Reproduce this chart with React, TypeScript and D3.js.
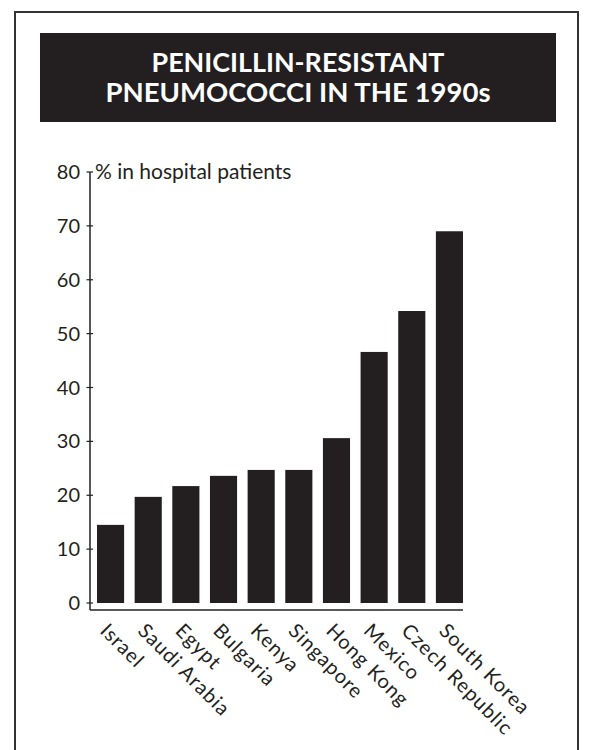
import React from "react";
import * as d3 from "d3";

const categories = ["Israel", "Saudi Arabia", "Egypt", "Bulgaria", "Kenya", "Singapore", "Hong Kong", "Mexico", "Czech Republic", "South Korea"];
const values = [14.5, 19.7, 21.7, 23.6, 24.7, 24.7, 30.6, 46.6, 54.2, 69.0];
const yTicks = [0, 10, 20, 30, 40, 50, 60, 70, 80];
const titleLines = ["PENICILLIN-RESISTANT", "PNEUMOCOCCI IN THE 1990s"];
const titleWidths = [293, 385];
const yAxisTitle = "% in hospital patients";

const W = 589;
const H = 750;
const INK = "#231f20";
const FONT = "Lato, 'Open Sans', sans-serif";

export default function App() {
  const x = d3.scaleBand<string>().domain(categories).range([97, 463]).paddingInner(0.28).paddingOuter(0);
  const y = d3.scaleLinear().domain([0, 80]).range([603, 172]);
  const axisX = 90;
  const baseY = 610;

  return (
    <svg width={W} height={H} style={{ position: "absolute", left: 0, top: 0, background: "#fff" }}>
      <rect x={15} y={12} width={563} height={760} fill="none" stroke="#333" strokeWidth={2} />
      <rect x={40} y={33} width={516} height={89} fill={INK} />
      {titleLines.map((t, i) => (
        <text
          key={t}
          x={298}
          y={72 + i * 30}
          textAnchor="middle"
          fill="#fff"
          fontFamily={FONT}
          fontWeight={700}
          fontSize={26}
          textLength={titleWidths[i]}
          lengthAdjust="spacingAndGlyphs"
        >
          {t}
        </text>
      ))}
      <line x1={axisX} x2={axisX} y1={y(80)} y2={baseY} stroke={INK} strokeWidth={1.5} />
      <line x1={axisX} x2={x("South Korea")! + x.bandwidth()} y1={baseY} y2={baseY} stroke={INK} strokeWidth={1.5} />
      {yTicks.map((t) => (
        <g key={t}>
          <line x1={axisX - 3.5} x2={axisX + 3} y1={y(t)} y2={y(t)} stroke={INK} strokeWidth={1.2} />
          <text x={80} y={y(t) + 7} textAnchor="end" fontFamily={FONT} fontSize={20} fill={INK}>
            {t}
          </text>
        </g>
      ))}
      <text x={95} y={y(80) + 7} fontFamily={FONT} fontSize={21} fill={INK}>
        {yAxisTitle}
      </text>
      {categories.map((c, i) => (
        <rect key={c} x={x(c)} y={y(values[i])} width={x.bandwidth()} height={y(0) - y(values[i])} fill={INK} />
      ))}
      {categories.map((c) => {
        const cx = x(c)! + 2;
        const cy = 632;
        return (
          <text key={c} transform={`translate(${cx},${cy}) rotate(45)`} fontFamily={FONT} fontSize={20} letterSpacing={1} fill={INK}>
            {c}
          </text>
        );
      })}
    </svg>
  );
}
